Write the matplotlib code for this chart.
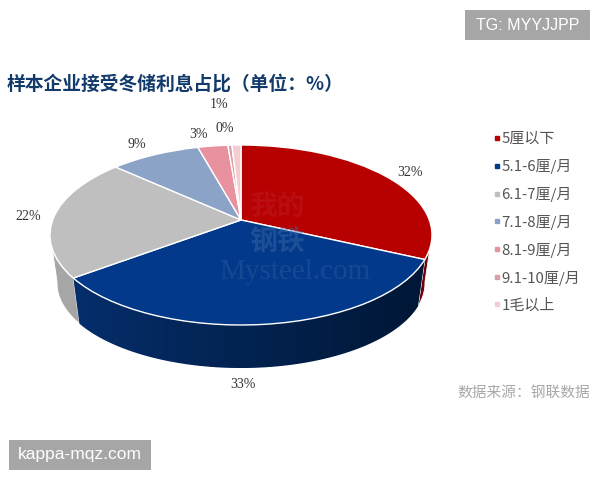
import numpy as np
import matplotlib
matplotlib.use('Agg')
import matplotlib.pyplot as plt
from matplotlib.lines import Line2D
from matplotlib.patches import Polygon, Rectangle
from matplotlib.transforms import Affine2D, Transform

plt.rcParams['font.family'] = ['Noto Sans CJK SC', 'DejaVu Sans']

# Chart data
categories = ['5厘以下', '5.1-6厘/月', '6.1-7厘/月', '7.1-8厘/月', '8.1-9厘/月', '9.1-10厘/月', '1毛以上']
shares = [32, 33, 22, 9, 3, 0.4, 0.9]
share_labels = ['32%', '33%', '22%', '9%', '3%', '0%', '1%']
title = '样本企业接受冬储利息占比（单位：%）'
source = '数据来源：钢联数据'

# Styles
colors = ['#b70000', '#02398a', '#bfbfbf', '#8aa3c6', '#e8919f', '#d9a0a8', '#f2cdd2']
side_colors = ['#6f0010', '#02265c', '#a6a6a6', '#6d83a3', '#b8707c', '#b08088', '#c9a5a9']
label_pos = [(410, 172), (243, 384), (28, 217), (137, 145), (199, 134), (225, 129), (219, 104)]

# Pie geometry in pixels: the apex sits above the ellipse centre (perspective)
top_cx, top_cy, top_rx, top_ry = 241, 235, 191, 90
bot_cx, bot_cy, bot_rx, bot_ry = 241, 283, 184, 85
tilt = 0.167


def squash(x, y):
    # projective map of the unit disc onto itself, moves the centre upward
    k = 1 + tilt * y
    return x * np.sqrt(1 - tilt ** 2) / k, (y + tilt) / k


class Tilt(Transform):
    input_dims = 2
    output_dims = 2

    def transform_non_affine(self, values):
        x, y = squash(values[:, 0], values[:, 1])
        return np.column_stack((x, y))


fig = plt.figure(figsize=(6, 4.8), dpi=100, facecolor='white')
ax = fig.add_axes([0, 0, 1, 1])

wedges, _ = ax.pie(shares, colors=colors, startangle=90, counterclock=False, radius=1,
                   wedgeprops={'edgecolor': 'white', 'linewidth': 1.0})
top_face = Affine2D().scale(top_rx, -top_ry).translate(top_cx, top_cy)
for w in wedges:
    w.set_transform(Tilt() + top_face + ax.transData)
    w.set_zorder(3)

# Side wall, one piece for each slice that faces the front
edges = np.concatenate(([0], np.cumsum(shares))) / np.sum(shares) * 2 * np.pi
for i in range(len(shares)):
    phi = np.linspace(edges[i], edges[i + 1], 80)
    x, y = squash(np.sin(phi), np.cos(phi))
    front = y < 0.03
    if front.sum() < 2:
        continue
    x, y = x[front], y[front]
    upper = np.column_stack((top_cx + top_rx * x, top_cy - top_ry * y))
    lower = np.column_stack((bot_cx + bot_rx * x, bot_cy - bot_ry * y))
    poly = Polygon(np.vstack((upper, lower[::-1])), closed=True, facecolor=side_colors[i],
                   edgecolor='white', linewidth=0.6, zorder=1)
    ax.add_patch(poly)
    if i == 1:
        # blue wall gets darker to the right
        ramp = np.linspace(0, 1, 256).reshape(1, -1, 1)
        rgb = (1 - ramp) * np.array([0.02, 0.18, 0.42]) + ramp * np.array([0.0, 0.09, 0.21])
        im = ax.imshow(rgb, extent=(upper[:, 0].min(), upper[:, 0].max(), 380, 220),
                       aspect='auto', zorder=2)
        im.set_clip_path(poly)

ax.set_aspect('auto')
ax.set_xlim(0, 600)
ax.set_ylim(480, 0)
ax.axis('off')

# Watermark
ax.text(277, 207, '我的', color='#c03040', alpha=0.28, fontsize=20, fontweight='bold',
        ha='center', va='center', zorder=4)
ax.text(277, 242, '钢铁', color='#3f6aa5', alpha=0.45, fontsize=20, fontweight='bold',
        ha='center', va='center', zorder=4)
ax.text(295, 272, 'Mysteel.com', color='#3f6aa5', alpha=0.32, fontsize=21, family='Liberation Serif',
        ha='center', va='center', zorder=4)

# Data labels
for text, (px, py) in zip(share_labels, label_pos):
    ax.text(px, py, text, fontsize=10, family='Liberation Serif', color='#333333',
            ha='center', va='center', zorder=5)

ax.text(7, 84, title, fontsize=13.5, fontweight='bold', color='#123a6b', ha='left', va='center')
ax.text(457, 393, source, fontsize=10.6, color='#a8a8a8', ha='left', va='center')

# Legend
handles = [Line2D([], [], linestyle='none', marker='s', markersize=2.6, color=c) for c in colors]
ax.legend(handles, categories, loc='upper left', bbox_to_anchor=(494 / 600, 1 - 132 / 480),
          frameon=False, fontsize=10.8, labelcolor='#555555', handlelength=0.4, handletextpad=0.1,
          labelspacing=0.86, borderpad=0, borderaxespad=0)

# Site tags
ax.add_patch(Rectangle((465, 10), 125, 30, facecolor='#a6a6a6', edgecolor='none', zorder=6))
ax.text(527.5, 25, 'TG: MYYJJPP', color='white', fontsize=11.5, family='Liberation Sans',
        ha='center', va='center', zorder=7)
ax.add_patch(Rectangle((9, 440), 142, 30, facecolor='#a6a6a6', edgecolor='none', zorder=6))
ax.text(80, 455, 'kappa-mqz.com', color='white', fontsize=12.5, family='Liberation Sans',
        ha='center', va='center', zorder=7)

fig.savefig('out.png', dpi=100)
